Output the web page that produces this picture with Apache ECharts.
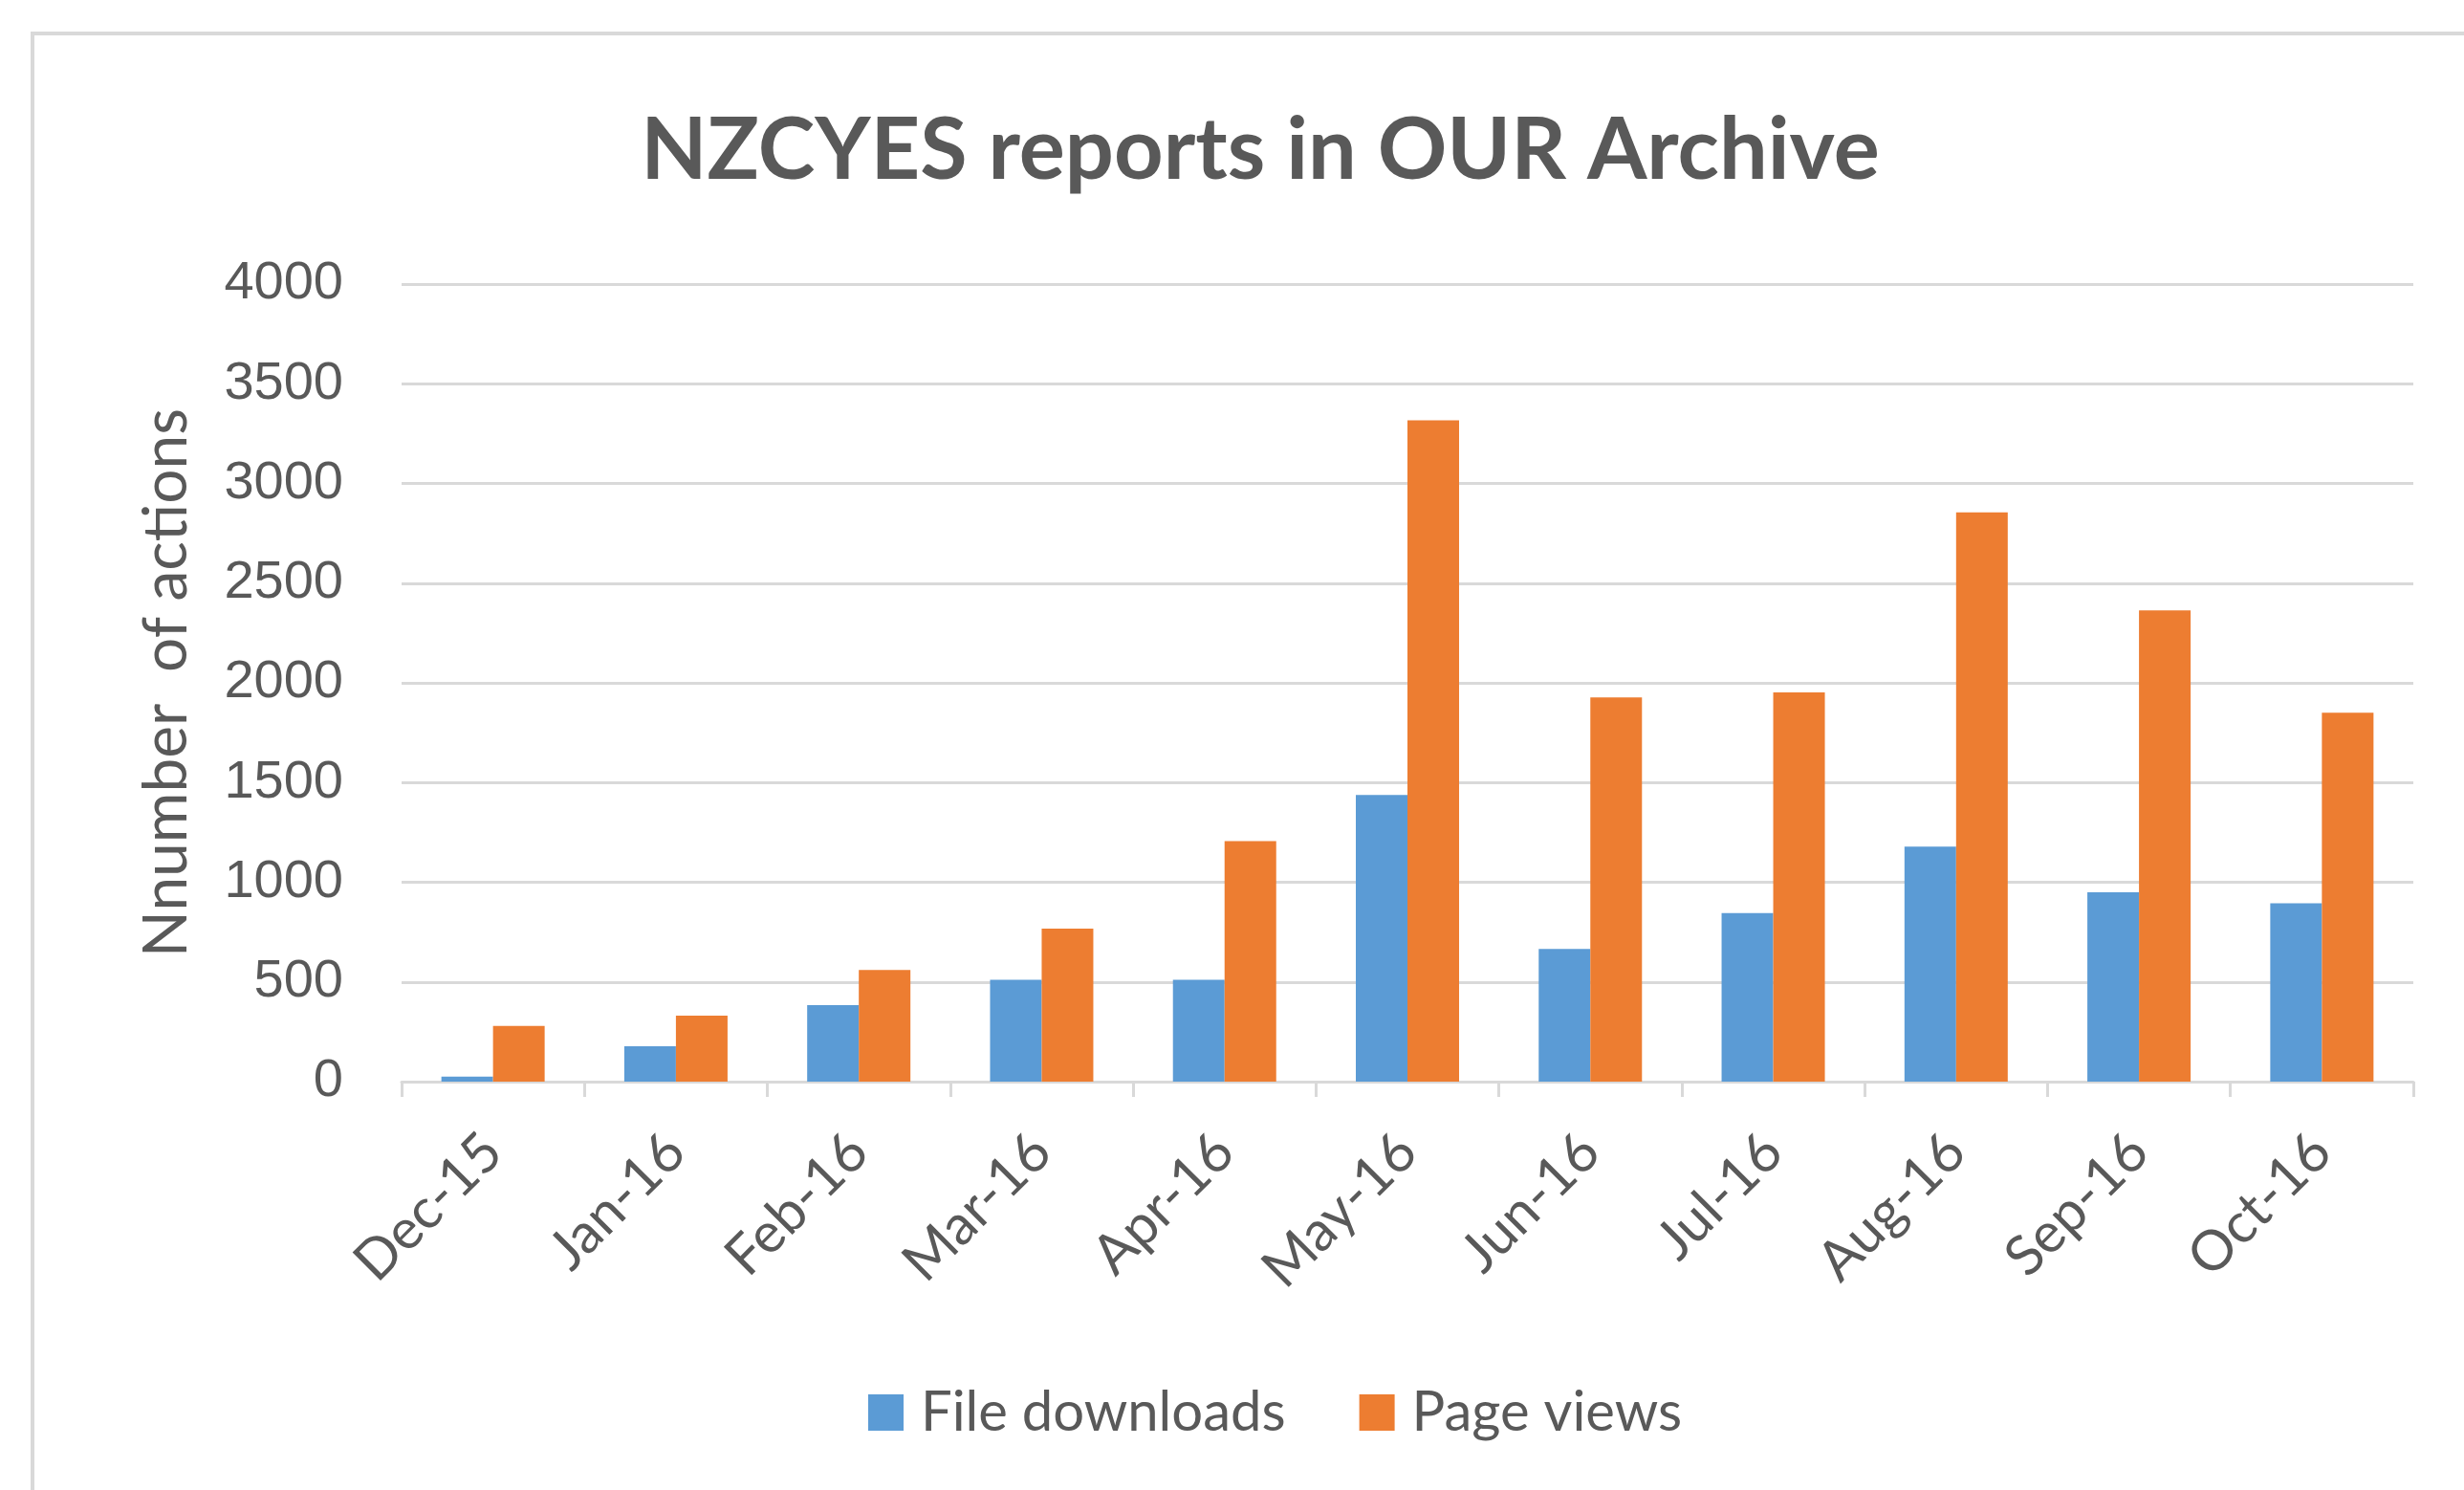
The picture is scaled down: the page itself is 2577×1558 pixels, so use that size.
<!DOCTYPE html>
<html>
<head>
<meta charset="utf-8">
<script src="https://cdn.jsdelivr.net/npm/echarts@6/dist/echarts.min.js"></script>
<style>
html, body { margin: 0; padding: 0; background: #fff; }
#chart { width: 2577px; height: 1558px; }
</style>
</head>
<body>
<div id="chart"></div>
<script>
// data
var months = ['Dec-15', 'Jan-16', 'Feb-16', 'Mar-16', 'Apr-16', 'May-16', 'Jun-16', 'Jul-16', 'Aug-16', 'Sep-16', 'Oct-16'];
var fileDownloads = [25, 177, 384, 511, 511, 1438, 665, 845, 1179, 950, 895];
var pageViews = [279, 331, 560, 767, 1206, 3316, 1927, 1952, 2855, 2363, 1850];

var grey = '#595959';
var lineGrey = '#d9d9d9';

var chart = echarts.init(document.getElementById('chart'));
chart.setOption({
    backgroundColor: '#fff',
    animation: false,
    graphic: [{
        type: 'rect',
        shape: { x: 34, y: 35, width: 3000, height: 3000 },
        style: { fill: 'none', stroke: lineGrey, lineWidth: 4 }
    }],
    title: {
        text: 'NZCYES reports in OUR Archive',
        left: 1313,
        textAlign: 'center',
        top: 108,
        textStyle: { fontFamily: 'Lato', fontWeight: 'bold', fontSize: 90, color: grey }
    },
    legend: {
        left: 903,
        top: 1443,
        itemWidth: 37,
        itemHeight: 38,
        itemGap: 77,
        icon: 'rect',
        textStyle: { fontFamily: 'Lato', fontSize: 58, color: grey, padding: [0, 0, 0, 13] },
        data: ['File downloads', 'Page views']
    },
    grid: { left: 420, right: 53, top: 297, bottom: 427 },
    xAxis: {
        type: 'category',
        data: months,
        axisLine: { lineStyle: { color: lineGrey, width: 3 } },
        axisTick: { show: true, length: 16, lineStyle: { color: lineGrey, width: 3 } },
        axisLabel: {
            rotate: 45,
            margin: 64,
            fontFamily: 'Lato',
            fontSize: 58,
            color: grey
        }
    },
    yAxis: {
        type: 'value',
        min: 0,
        max: 4000,
        interval: 500,
        name: 'Nnumber  of actions',
        nameLocation: 'middle',
        nameGap: 214,
        nameTextStyle: { fontFamily: 'Lato', fontSize: 64, color: grey },
        axisLine: { show: false },
        axisTick: { show: false },
        axisLabel: {
            margin: 61,
            fontFamily: 'Liberation Sans',
            fontSize: 56,
            color: grey,
            formatter: function (v) { return String(v); }
        },
        splitLine: { lineStyle: { color: lineGrey, width: 3 } }
    },
    series: [{
        name: 'File downloads',
        type: 'bar',
        data: fileDownloads,
        barWidth: 54,
        barGap: '0%',
        itemStyle: { color: '#5b9bd5' }
    }, {
        name: 'Page views',
        type: 'bar',
        data: pageViews,
        barWidth: 54,
        barGap: '0%',
        itemStyle: { color: '#ed7d31' }
    }]
});
</script>
</body>
</html>
